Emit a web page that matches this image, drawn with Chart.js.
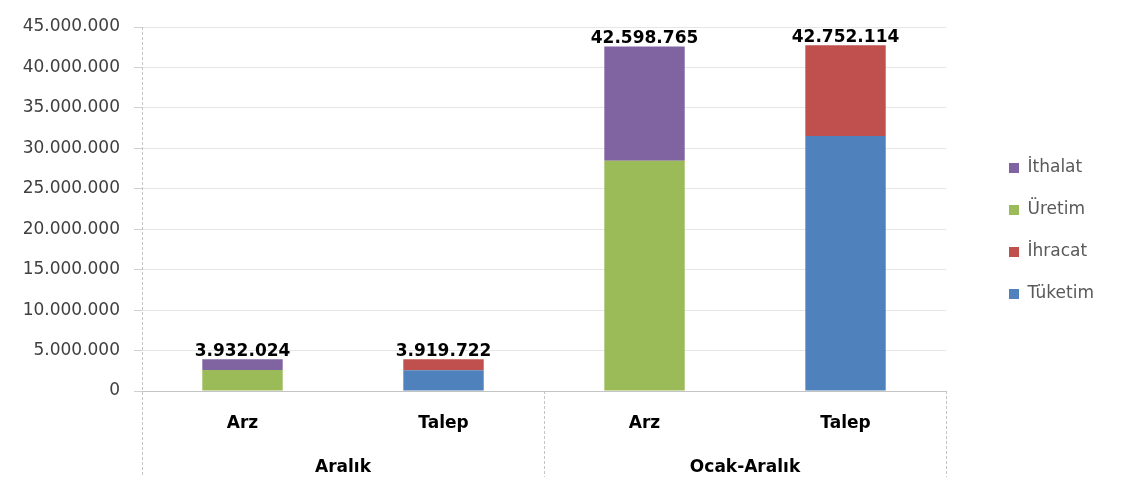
<!DOCTYPE html>
<html>
<head>
<meta charset="utf-8">
<script src="https://cdn.jsdelivr.net/npm/chart.js@4/dist/chart.umd.min.js"></script>
<style>
  html, body { margin: 0; padding: 0; background: #ffffff; }
  #wrap { width: 1138px; height: 477px; position: relative; }
</style>
</head>
<body>
<div id="wrap"><canvas id="c"></canvas></div>
<script>
// ---- data ----
const categories = ["Arz", "Talep", "Arz", "Talep"];
const groups = ["Aralık", "Ocak-Aralık"];
const tuketim = [0, 2570000, 0, 31540000];
const ihracat = [0, 1349722, 0, 11212114];
const uretim  = [2600000, 0, 28460000, 0];
const ithalat = [1332024, 0, 14138765, 0];
const yTicks = [0, 5000000, 10000000, 15000000, 20000000, 25000000, 30000000, 35000000, 40000000, 45000000];

const FONT = "'DejaVu Sans', sans-serif";
const fmt = v => String(Math.round(v)).replace(/\B(?=(\d{3})+(?!\d))/g, ".");

const decor = {
  id: 'decor',
  afterDraw(chart) {
    const {ctx, chartArea, scales} = chart;
    const x = scales.x, y = scales.y;
    const H = chart.height;
    ctx.save();
    ctx.strokeStyle = '#c4c4c4';
    ctx.lineWidth = 1;
    ctx.setLineDash([3, 2]);
    // y axis line, extended through the category area
    const lx = Math.round(chartArea.left) + 0.5;
    ctx.beginPath();
    ctx.moveTo(lx, chartArea.top);
    ctx.lineTo(lx, H);
    ctx.stroke();
    const mid = (x.getPixelForValue(1) + x.getPixelForValue(2)) / 2;
    [mid, chartArea.right].forEach(px => {
      const xx = Math.round(px) + 0.5;
      ctx.beginPath();
      ctx.moveTo(xx, chartArea.bottom);
      ctx.lineTo(xx, H);
      ctx.stroke();
    });
    ctx.setLineDash([]);
    // group labels
    ctx.fillStyle = '#000000';
    ctx.font = "bold 17px " + FONT;
    ctx.textAlign = 'center';
    ctx.textBaseline = 'middle';
    const gy = chartArea.bottom + 77;
    ctx.fillText(groups[0], (x.getPixelForValue(0) + x.getPixelForValue(1)) / 2, gy);
    ctx.fillText(groups[1], (x.getPixelForValue(2) + x.getPixelForValue(3)) / 2, gy);
    // totals
    ctx.textBaseline = 'bottom';
    categories.forEach((c, i) => {
      let total = 0;
      chart.data.datasets.forEach(ds => { total += ds.data[i] || 0; });
      if (!total) return;
      ctx.fillText(fmt(total), x.getPixelForValue(i), y.getPixelForValue(total) + 1);
    });
    ctx.restore();
  }
};

new Chart(document.getElementById('c'), {
  type: 'bar',
  data: {
    labels: categories,
    datasets: [
      { label: 'Tüketim', data: tuketim, backgroundColor: '#4F81BD' },
      { label: 'İhracat', data: ihracat, backgroundColor: '#C0504D' },
      { label: 'Üretim',  data: uretim,  backgroundColor: '#9BBB59' },
      { label: 'İthalat', data: ithalat, backgroundColor: '#8064A2' }
    ]
  },
  options: {
    responsive: true,
    maintainAspectRatio: false,
    animation: false,
    datasets: { bar: { barPercentage: 0.8, categoryPercentage: 0.5, borderWidth: 0 } },
    layout: { padding: { top: 27, right: 34, left: 0, bottom: 42 } },
    plugins: {
      tooltip: { enabled: false },
      legend: {
        position: 'right',
        reverse: true,
        labels: {
          boxWidth: 10, boxHeight: 10, padding: 25,
          color: '#595959',
          font: { family: FONT, size: 17 }
        }
      }
    },
    scales: {
      x: {
        stacked: true,
        grid: { display: false, drawTicks: false },
        border: { display: true, color: '#c4c4c4', dash: [3, 2] },
        ticks: { color: '#000000', font: { family: FONT, size: 17, weight: 'bold' }, padding: 22, maxRotation: 0 },
        afterFit: s => { s.height = 44; }
      },
      y: {
        stacked: true,
        min: 0, max: 45000000,
        afterBuildTicks: s => { s.ticks = yTicks.map(v => ({ value: v })); },
        grid: { color: '#e6e6e6', lineWidth: 1, tickLength: 8, tickColor: '#d0d0d0' },
        border: { display: false },
        ticks: { color: '#404040', font: { family: FONT, size: 17 }, padding: 14, callback: v => fmt(v) },
        afterFit: s => { s.width = 142; }
      },
      gap: {
        position: 'right',
        display: true,
        grid: { display: false, drawTicks: false },
        border: { display: false },
        ticks: { display: false },
        afterFit: s => { s.width = 38; }
      }
    }
  },
  plugins: [decor]
});
</script>
</body>
</html>
